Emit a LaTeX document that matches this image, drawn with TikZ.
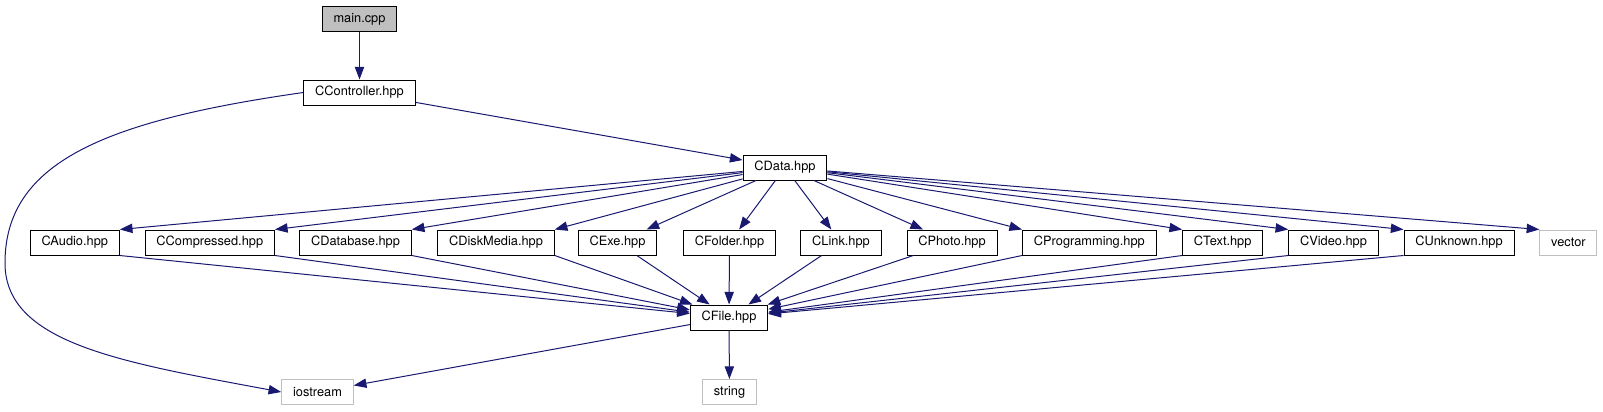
\documentclass[tikz,border=0pt]{standalone}
\usepackage{fontspec}
\setmainfont{TeX Gyre Heros}
\usetikzlibrary{arrows.meta}
\definecolor{dedge}{HTML}{191970}
\definecolor{dgrey}{HTML}{BFBFBF}
\tikzset{
  hdr/.style={draw=black, line width=0.75pt, minimum height=18.75pt,
    inner xsep=8.5pt, inner ysep=0pt, font=\fontsize{9.6}{11}\selectfont},
  syshdr/.style={hdr, draw=dgrey},
  dep/.style={draw=dedge, line width=0.75pt, -{Triangle[length=9.5pt,width=7pt]}}
}

\begin{document}
\begin{tikzpicture}[x=0.75pt, y=-0.75pt]
\useasboundingbox (0,0) rectangle (1603,411);
% ================= top =================
\node[hdr, fill=dgrey] (main) at (359.5,19) {main.cpp};
\node[hdr] (ctrl) at (359.5,92.5) {CController.hpp};
\node[hdr] (data) at (785,167.5) {CData.hpp};
% ================= derived headers =================
\node[hdr] (audio)   at (74.8,242.5)   {CAudio.hpp};
\node[hdr] (compr)   at (209.8,242.5)  {CCompressed.hpp};
\node[hdr] (datab)   at (355.5,242.5)  {CDatabase.hpp};
\node[hdr] (disk)    at (496,242.5)    {CDiskMedia.hpp};
\node[hdr] (exe)     at (617.5,242.5)  {CExe.hpp};
\node[hdr] (folder)  at (729.5,242.5)  {CFolder.hpp};
\node[hdr] (link)    at (841,242.5)    {CLink.hpp};
\node[hdr] (photo)   at (952,242.5)    {CPhoto.hpp};
\node[hdr] (prog)    at (1089.3,242.5) {CProgramming.hpp};
\node[hdr] (text)    at (1222.7,242.5) {CText.hpp};
\node[hdr] (video)   at (1333.5,242.5) {CVideo.hpp};
\node[hdr] (unknown) at (1459,242.5)   {CUnknown.hpp};
\node[syshdr] (vector) at (1568.4,242.5) {vector};
% ================= bottom =================
\node[hdr] (cfile) at (729,317.5) {CFile.hpp};
\node[syshdr] (iostream) at (317.5,392) {iostream};
\node[syshdr] (string) at (729.5,392) {string};
% ================= dependencies =================
\draw[dep] (main) -- (ctrl);
\draw[dep] (ctrl) -- (data);
\draw[dep] (ctrl.west) .. controls (103,121) and (5,163) .. (5,263)
   .. controls (5,343) and (120,362) .. (iostream.west);
% left of CData: in at the top right corner, out at the bottom right one
\foreach \n in {audio,compr,datab,disk}{
  \draw[dep] (data) -- (\n.north east);
  \draw[dep] (\n.south east) -- (cfile);
}
\foreach \n in {exe,folder,link,photo}{
  \draw[dep] (data) -- (\n);
  \draw[dep] (\n) -- (cfile);
}
% right of CData: the mirror image
\foreach \n in {prog,text,video,unknown}{
  \draw[dep] (data) -- (\n.north west);
  \draw[dep] (\n.south west) -- (cfile);
}
\draw[dep] (data) -- (vector.north west);
\draw[dep] (cfile) -- (iostream);
\draw[dep] (cfile) -- (string);
\end{tikzpicture}
\end{document}
